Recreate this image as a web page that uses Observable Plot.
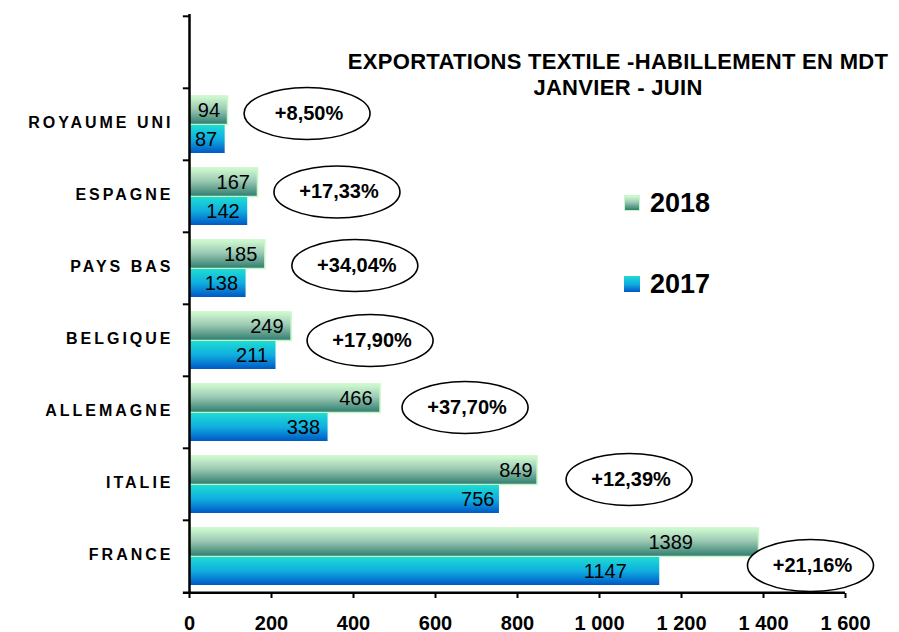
<!DOCTYPE html>
<html>
<head>
<meta charset="utf-8">
<script src="https://cdn.jsdelivr.net/npm/d3@7"></script>
<script src="https://cdn.jsdelivr.net/npm/@observablehq/plot@0.6"></script>
<style>
  body { margin: 0; background: #fff; font-family: "Liberation Sans", Arial, sans-serif; }
  #wrap { position: relative; width: 899px; height: 632px; }
  #title { position: absolute; left: 330px; width: 576px; top: 49px; text-align: center;
           font-weight: bold; font-size: 22px; line-height: 26px; color: #000; letter-spacing: 0.3px; }
  .leg { position: absolute; left: 624px; height: 30px; display: flex; align-items: center;
         font-weight: bold; font-size: 27px; color: #000; }
  .sw { width: 16px; height: 16px; margin-right: 10px; box-sizing: border-box; }
  .sw18 { background: linear-gradient(#d2fbd2, #9ccab4 45%, #2d7b6e); border: 1.5px solid #c8f8c8; }
  .sw17 { background: linear-gradient(#1edcd2, #10aee0 50%, #0058c4); }
  g[aria-label="y-axis tick label"] text { letter-spacing: 3px; }
</style>
</head>
<body>
<div id="wrap">
  <div id="chart"></div>
  <div id="title">EXPORTATIONS TEXTILE -HABILLEMENT EN MDT<br>JANVIER - JUIN</div>
  <div class="leg" style="top:188px"><div class="sw sw18"></div><span>2018</span></div>
  <div class="leg" style="top:269px"><div class="sw sw17"></div><span>2017</span></div>
</div>
<script>
// ---- data ----
const countries = ["ROYAUME UNI", "ESPAGNE", "PAYS BAS", "BELGIQUE", "ALLEMAGNE", "ITALIE", "FRANCE"];
const values2018 = [94, 167, 185, 249, 466, 849, 1389];
const values2017 = [87, 142, 138, 211, 338, 756, 1147];
const growthLabels = ["+8,50%", "+17,33%", "+34,04%", "+17,90%", "+37,70%", "+12,39%", "+21,16%"];
const xTicks = [0, 200, 400, 600, 800, 1000, 1200, 1400, 1600];
const years = ["2018", "2017"];

const rows = countries.map((c, i) => ({country: c, v2018: values2018[i], v2017: values2017[i], growth: growthLabels[i]}));

// ---- layout (pixel offsets for annotations) ----
const W = 899, H = 632, MT = 14, MB = 39, ML = 189, MR = 54;
const yDomain = ["", ...countries];
const bw = (H - MT - MB) / yDomain.length;
const annot = {
  "ROYAUME UNI": [79, -11], "ESPAGNE": [79, -4.5], "PAYS BAS": [89.5, -3], "BELGIQUE": [78.5, 0],
  "ALLEMAGNE": [84.5, -5], "ITALIE": [91.5, -5], "FRANCE": [51.5, 9]
};
const labelDx = {"FRANCE": [-66, -33], "ITALIE": [-5, -5]};

const RX = 63, RY = 26, K = 0.5523;
const ellipse = {
  draw(ctx) {
    ctx.moveTo(RX, 0);
    ctx.bezierCurveTo(RX, RY * K, RX * K, RY, 0, RY);
    ctx.bezierCurveTo(-RX * K, RY, -RX, RY * K, -RX, 0);
    ctx.bezierCurveTo(-RX, -RY * K, -RX * K, -RY, 0, -RY);
    ctx.bezierCurveTo(RX * K, -RY, RX, -RY * K, RX, 0);
    ctx.closePath();
  }
};

const fr = d3.formatLocale({decimal: ",", thousands: " ", grouping: [3], currency: ["", ""]});
const fmt = fr.format(",");
const font = "Liberation Sans, Arial, sans-serif";

const valueLabels = [];
rows.forEach(r => {
  const [d18, d17] = labelDx[r.country] || [-8, -8];
  valueLabels.push(Plot.text([r], {x: "v2018", y: "country", text: d => String(d.v2018), textAnchor: "end",
    dx: d18, dy: -13.7, fontSize: 20, fill: "#000"}));
  valueLabels.push(Plot.text([r], {x: "v2017", y: "country", text: d => String(d.v2017), textAnchor: "end",
    dx: d17, dy: 14.8, fontSize: 20, fill: "#000"}));
});

const annotMarks = [];
rows.forEach(r => {
  const [dx, dy] = annot[r.country];
  annotMarks.push(Plot.dot([r], {x: "v2018", y: "country", dx, dy, symbol: ellipse, fill: "#fff", stroke: "#000", strokeWidth: 1.6}));
  annotMarks.push(Plot.text([r], {x: "v2018", y: "country", text: "growth", dx: dx + 2, dy, fontSize: 20, fontWeight: "bold", fill: "#000"}));
});

const chart = Plot.plot({
  width: W, height: H,
  marginTop: MT, marginBottom: MB, marginLeft: ML, marginRight: MR,
  style: {fontFamily: font, color: "#000", background: "transparent", overflow: "visible"},
  x: {domain: [0, 1600], axis: null},
  y: {domain: yDomain, padding: 0, axis: null},
  marks: [
    Plot.barX(rows, {x: "v2018", y: "country", fill: "url(#g2018)", stroke: "#c8f8c8", strokeWidth: 1.5, insetTop: 8, insetBottom: 35.5}),
    Plot.barX(rows, {x: "v2017", y: "country", fill: "url(#g2017)", insetTop: 37, insetBottom: 7}),
    ...valueLabels,
    ...annotMarks,
    Plot.ruleX([0], {stroke: "#000", strokeWidth: 2.5}),
    Plot.ruleY(yDomain, {dy: -bw / 2, x1: -15, x2: 0, stroke: "#000", strokeWidth: 2}),
    Plot.ruleY(["FRANCE"], {dy: bw / 2, x1: -15, x2: 1600, stroke: "#000", strokeWidth: 2.5}),
    Plot.axisX({ticks: xTicks, tickFormat: fmt, tickSize: 5, tickPadding: 17, fontSize: 20, fontWeight: "bold", strokeWidth: 2, label: null}),
    Plot.axisY({tickSize: 0, tickPadding: 16, fontSize: 16, fontWeight: "bold", dy: -2, label: null})
  ]
});

d3.select(chart).insert("defs", ":first-child").html(`
  <linearGradient id="g2018" x1="0" y1="0" x2="0" y2="1">
    <stop offset="0" stop-color="#d2fbd2"/>
    <stop offset="0.45" stop-color="#9ccab4"/>
    <stop offset="1" stop-color="#2d7b6e"/>
  </linearGradient>
  <linearGradient id="g2017" x1="0" y1="0" x2="0" y2="1">
    <stop offset="0" stop-color="#1edcd2"/>
    <stop offset="0.5" stop-color="#10aee0"/>
    <stop offset="1" stop-color="#0058c4"/>
  </linearGradient>`);

document.getElementById("chart").appendChild(chart);
</script>
</body>
</html>
